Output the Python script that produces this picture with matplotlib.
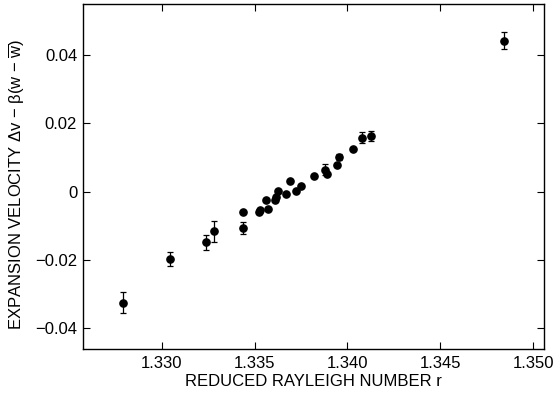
import matplotlib
matplotlib.use("Agg")
import matplotlib.pyplot as plt
from matplotlib.ticker import FixedLocator, FixedFormatter

plt.rcParams['font.family'] = ['Liberation Sans', 'DejaVu Sans']
plt.rcParams['mathtext.fontset'] = 'custom'
plt.rcParams['mathtext.rm'] = 'Liberation Sans'
plt.rcParams['mathtext.it'] = 'Liberation Sans:italic'

r_vals = [1.3279, 1.33045, 1.33237, 1.33283, 1.33436, 1.33438, 1.33524, 1.33531,
          1.33560, 1.33574, 1.33610, 1.33615, 1.33628, 1.33669, 1.33689, 1.33723,
          1.33750, 1.33820, 1.33881, 1.33892, 1.33945, 1.33956, 1.34032, 1.34076,
          1.34127, 1.34842]
v_vals = [-0.0326, -0.0198, -0.0148, -0.0117, -0.0107, -0.00605, -0.00585, -0.00555,
          -0.00234, -0.00517, -0.00254, -0.00146, 0.0002, -0.00059, 0.00312, 0.0001,
          0.00176, 0.00468, 0.00644, 0.00507, 0.0079, 0.0101, 0.0124, 0.0158,
          0.0163, 0.0442]
v_err = [0.0031, 0.0020, 0.0022, 0.0031, 0.0018, 0.0, 0.0, 0.0,
         0.0, 0.0, 0.0, 0.0, 0.0, 0.0, 0.0, 0.0,
         0.0, 0.0, 0.0017, 0.0, 0.0, 0.0010, 0.0, 0.0015,
         0.0015, 0.0024]

x_ticks = [1.330, 1.335, 1.340, 1.345, 1.350]
x_labels = ['1.330', '1.335', '1.340', '1.345', '1.350']
y_ticks = [-0.04, -0.02, 0.0, 0.02, 0.04]
y_labels = ['\u22120.04', '\u22120.02', '0', '0.02', '0.04']

fig = plt.figure(figsize=(5.54, 3.98), dpi=100)
ax = fig.add_axes([82.7/554, 1 - 349/398, (544 - 82.7)/554, (349 - 4)/398])

ax.errorbar(r_vals, v_vals, yerr=v_err, fmt='o', color='black', markersize=5.2,
            elinewidth=0.9, capsize=2.5, capthick=0.9, ecolor='black')

ax.set_xlim(1.32575, 1.35058)
ax.set_ylim(-0.0461, 0.0549)
ax.xaxis.set_major_locator(FixedLocator(x_ticks))
ax.xaxis.set_major_formatter(FixedFormatter(x_labels))
ax.yaxis.set_major_locator(FixedLocator(y_ticks))
ax.yaxis.set_major_formatter(FixedFormatter(y_labels))
ax.tick_params(direction='in', length=5, width=0.8, top=True, right=True,
               labelsize=12, colors='black')
ax.tick_params(axis='y', pad=4)
ax.tick_params(axis='x', pad=5)
for s in ax.spines.values():
    s.set_linewidth(1.0)

ax.set_xlabel('REDUCED RAYLEIGH NUMBER r', fontsize=12, labelpad=2)
ax.set_ylabel('EXPANSION VELOCITY \u0394v \u2212 \u03b2(w \u2212 $\\overline{\\mathrm{w}}$)',
              fontsize=12)
ax.yaxis.set_label_coords(-0.121, 0.478)

fig.savefig('out.png', dpi=100)
